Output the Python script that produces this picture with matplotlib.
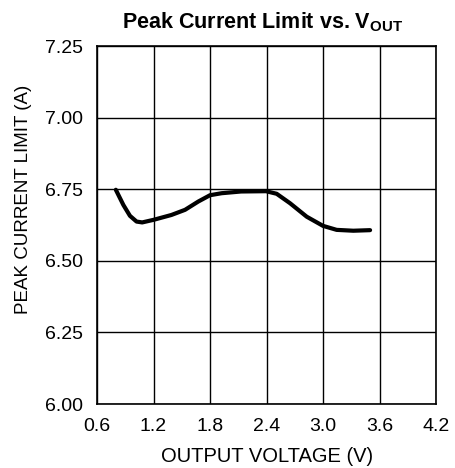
import matplotlib
matplotlib.use("Agg")
import matplotlib.pyplot as plt

plt.rcParams['font.family'] = ['Liberation Sans', 'DejaVu Sans']
plt.rcParams['mathtext.fontset'] = 'custom'
plt.rcParams['mathtext.rm'] = 'Liberation Sans'
plt.rcParams['mathtext.bf'] = 'Liberation Sans:bold'

# values
vout = [0.80, 0.88, 0.95, 1.02, 1.08, 1.20, 1.39, 1.535, 1.676, 1.80, 1.924,
        2.13, 2.395, 2.508, 2.65, 2.827, 3.00, 3.145, 3.322, 3.50]
ilim = [6.748, 6.695, 6.657, 6.637, 6.634, 6.643, 6.660, 6.678, 6.707, 6.729, 6.736,
        6.742, 6.743, 6.734, 6.701, 6.654, 6.622, 6.608, 6.605, 6.607]

xticks = [0.6, 1.2, 1.8, 2.4, 3.0, 3.6, 4.2]
yticks = [6.00, 6.25, 6.50, 6.75, 7.00, 7.25]

W, H = 455, 468
fig = plt.figure(figsize=(W / 100, H / 100), dpi=100)
ax = fig.add_axes([97 / W, 1 - 404 / H, 339 / W, 358 / H])

ax.plot(vout, ilim, color='black', lw=3, solid_capstyle='round', solid_joinstyle='round')

ax.set_xlim(0.6, 4.2)
ax.set_ylim(6.0, 7.25)
ax.set_xticks(xticks)
ax.set_xticklabels([f"{t:.1f}" for t in xticks])
ax.set_yticks(yticks)
ax.set_yticklabels([f"{t:.2f}" for t in yticks])
ax.tick_params(length=0, labelsize=14)
ax.tick_params(axis='y', pad=10)
ax.tick_params(axis='x', pad=10)
ax.grid(True, color='black', lw=1)
ax.set_axisbelow(True)
for s in ax.spines.values():
    s.set_linewidth(1.2)

fig.text(267 / W, 1 - 457 / H, "OUTPUT VOLTAGE (V)", fontsize=14.5,
         ha='center', va='center')
fig.text(24 / W, 1 - 199 / H, "PEAK CURRENT LIMIT (A)", fontsize=13.5,
         rotation=90, ha='center', va='center')
fig.text(263 / W, 1 - 28 / H, r"Peak Current Limit vs. $\mathbf{V_{OUT}}$",
         fontsize=15.5, fontweight='bold', ha='center', va='baseline')

fig.savefig("out.png", dpi=100)
